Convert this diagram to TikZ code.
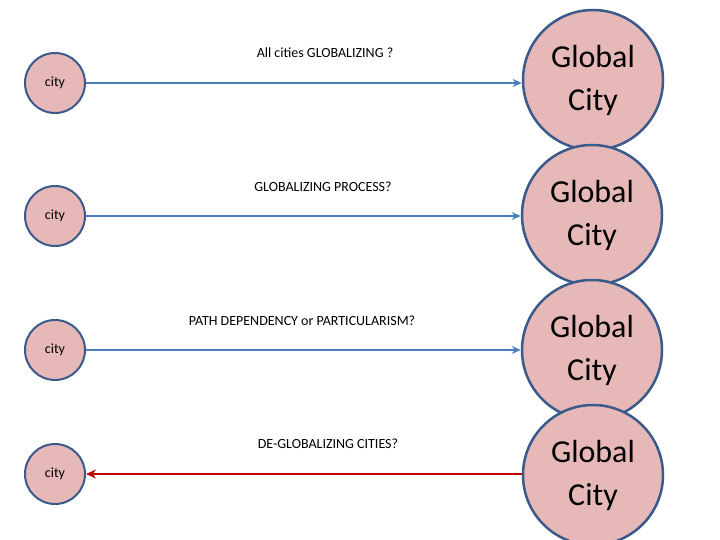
\documentclass[tikz,border=0pt]{standalone}
\usepackage{fontspec}
\setmainfont{Carlito}
\usetikzlibrary{arrows.meta}
\definecolor{pinkf}{HTML}{E6B9B8}
\definecolor{edgeb}{HTML}{3B5A8C}
\definecolor{arrb}{HTML}{4A7EBB}
\definecolor{arrr}{HTML}{C00000}
\begin{document}
\begin{tikzpicture}[x=1pt,y=-1pt,
  small/.style={circle,draw=edgeb,fill=pinkf,line width=2pt,minimum size=60pt,inner sep=0pt,font=\fontsize{14}{16}\selectfont},
  big/.style={circle,draw=edgeb,fill=pinkf,line width=2.5pt,minimum size=140pt,inner sep=0pt,align=center,font=\fontsize{32}{43}\selectfont},
  lab/.style={font=\fontsize{14}{16}\selectfont},
  barr/.style={draw=arrb,line width=2pt,-{Stealth[length=9pt,width=8pt]}},
  rarr/.style={draw=arrr,line width=2.5pt,-{Stealth[length=10pt,width=9pt]}}]
\useasboundingbox (0,0) rectangle (720,540);
\node[big] (b1) at (593,80) {Global\\City};
\node[big] (b2) at (592,215) {Global\\City};
\node[big] (b3) at (592,350) {Global\\City};
\node[big] (b4) at (593,475) {Global\\City};
\node[small] (s1) at (55,83) {city};
\node[small] (s2) at (55,216) {city};
\node[small] (s3) at (55,350) {city};
\node[small] (s4) at (55,474) {city};
\draw[barr] (s1.east) -- (s1.east -| b1.west);
\draw[barr] (s2.east) -- (s2.east -| b2.west);
\draw[barr] (s3.east) -- (s3.east -| b3.west);
\draw[rarr] (s4.east -| b4.west) -- (s4.east);
\node[lab] (l1) at (325,53) {All cities GLOBALIZING ?};
\node[lab] (l2) at (323,187) {GLOBALIZING PROCESS?};
\node[lab] (l3) at (302,321) {PATH DEPENDENCY or PARTICULARISM?};
\node[lab] (l4) at (328,444) {DE-GLOBALIZING CITIES?};
\end{tikzpicture}
\end{document}
